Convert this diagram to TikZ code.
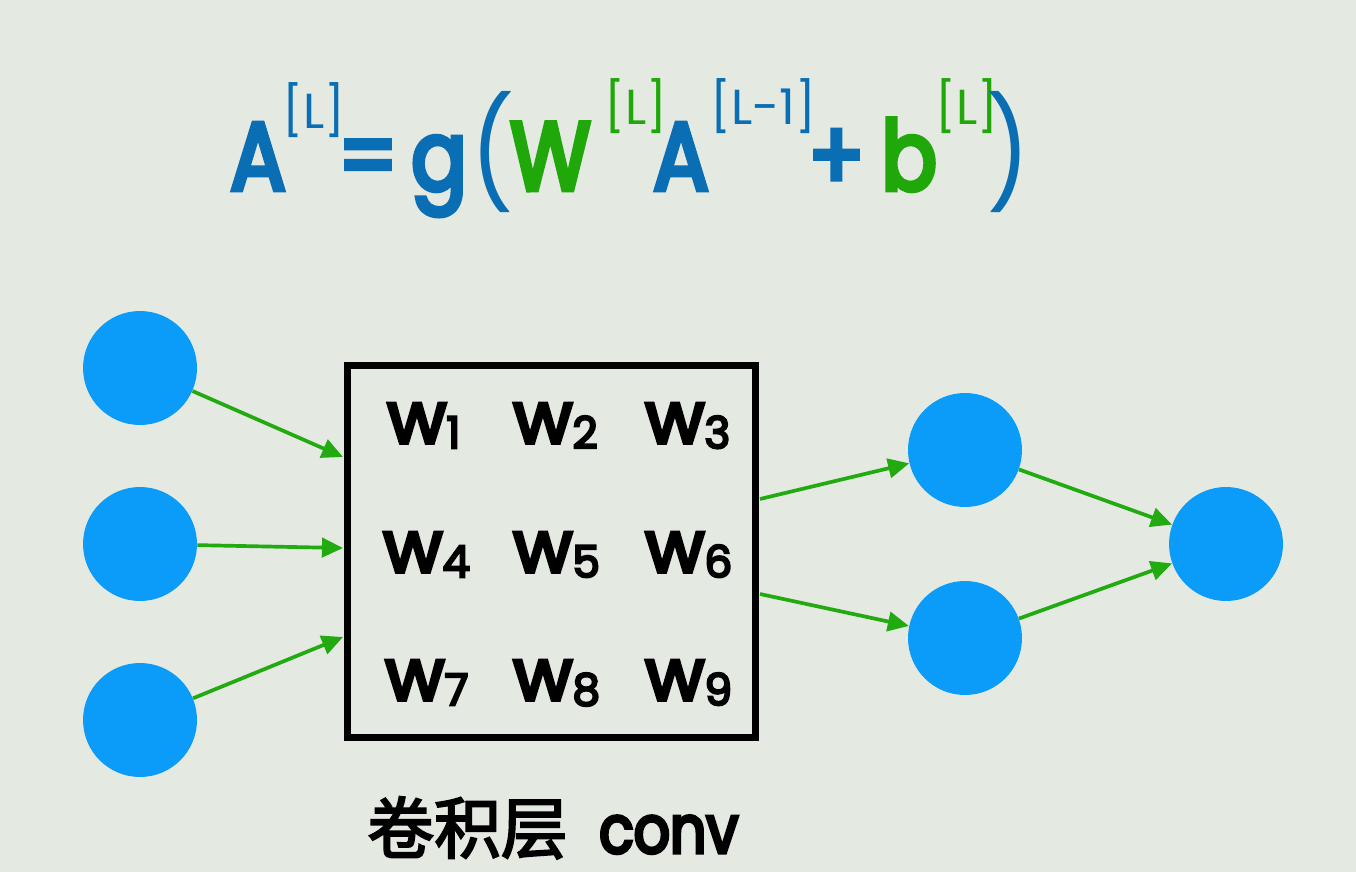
\documentclass[tikz,border=0pt]{standalone}
\usepackage{fontspec}
\setmainfont{Poppins}
\newfontfamily\heavyfont[FakeBold=5]{Poppins}
\newfontfamily\eqfont[FakeBold=5, FakeStretch=0.85]{Poppins}
\newfontfamily\cjk[FakeBold=3]{Noto Sans CJK SC}
\usepackage{graphicx}
\usetikzlibrary{positioning, arrows.meta, calc}
\definecolor{bgpaper}{HTML}{E4E9E2}
\definecolor{nodeblue}{HTML}{0A9CF8}
\definecolor{eqblue}{HTML}{0A6EB4}
\definecolor{eqgreen}{HTML}{20A80A}
\definecolor{arrowgreen}{HTML}{22AA11}

\begin{document}
\begin{tikzpicture}[x=0.02cm, y=-0.02cm,
    neuron/.style={circle, fill=nodeblue, minimum size=2.28cm, inner sep=0pt},
    link/.style={arrowgreen, line width=2.1pt, -{Triangle[length=12pt, width=11pt]}},
    fbig/.style={anchor=base west, inner sep=0pt, font=\fontsize{55}{55}\selectfont\eqfont},
    fparen/.style={anchor=base west, inner sep=0pt, font=\fontsize{55}{55}\selectfont},
    fsup/.style={anchor=base west, inner sep=0pt, font=\fontsize{28}{28}\selectfont},
    wlabel/.style={anchor=base west, inner sep=0pt, font=\fontsize{41}{41}\selectfont\heavyfont}]
        \fill[bgpaper] (0,0) rectangle (1356,872);
        \useasboundingbox (0,0) rectangle (1356,872);
        % formula
        \node[fbig, text=eqblue] (eqA) at (230,190) {A};
        \node[fsup, text=eqblue] (eqAsup) at (282,128) {[L]};
        \node[fbig, text=eqblue] (eqeq) at (338,190) {=};
        \node[fbig, text=eqblue] (eqg) at (411,190) {g};
        \node[fparen, text=eqblue] (eqlp) at (470,192) {\scalebox{1}[1.12]{(}};
        \node[fbig, text=eqgreen] (eqW) at (510,190) {W};
        \node[fsup, text=eqgreen] (eqWsup) at (604,124) {[L]};
        \node[fbig, text=eqblue] (eqA2) at (653,190) {A};
        \node[fsup, text=eqblue] (eqA2sup) at (710,124) {[L-1]};
        \node[fbig, text=eqblue] (eqplus) at (808,190) {+};
        \node[fbig, text=eqgreen] (eqb) at (881,190) {b};
        \node[fsup, text=eqgreen] (eqbsup) at (935,124) {[L]};
        \node[fparen, text=eqblue] (eqrp) at (986,192) {\scalebox{1}[1.12]{)}};
        % neurons
        \node[neuron] (x1) at (140,368) {};
        \node[neuron] (x2) at (140,544) {};
        \node[neuron] (x3) at (140,720) {};
        \node[neuron] (h1) at (965,450) {};
        \node[neuron] (h2) at (965,638) {};
        \node[neuron] (y) at (1226,544) {};
        % conv box
        \node[draw=black, line width=4pt, minimum width=8.18cm, minimum height=7.46cm, inner sep=0pt] (convbox) at (551.5,551.5) {};
        \foreach \i/\x/\y in {1/387/443, 2/513/443, 3/645/443,
                              4/383/572, 5/513/572, 6/645/572,
                              7/385/700, 8/513/700, 9/645/700}
          \node[wlabel] (w\i) at (\x,\y) {w\raisebox{-3pt}{\fontsize{25}{25}\selectfont\i}};
        \node[anchor=base west, inner sep=0pt] (caption) at (367,853) {{\fontsize{38}{38}\selectfont\cjk 卷积层}\hspace{18pt}{\fontsize{38}{38}\selectfont\eqfont conv}};
        % connectors
        \coordinate (in1) at (343,457);
        \coordinate (in2) at (343,548);
        \coordinate (in3) at (343,637);
        \coordinate (out1) at (760,499);
        \coordinate (out2) at (760,594);
        \draw[link] (x1) -- (in1);
        \draw[link] (x2) -- (in2);
        \draw[link] (x3) -- (in3);
        \draw[link] (out1) -- (h1);
        \draw[link] (out2) -- (h2);
        \draw[link] (h1) -- (y);
        \draw[link] (h2) -- (y);
      \end{tikzpicture}
\end{document}
